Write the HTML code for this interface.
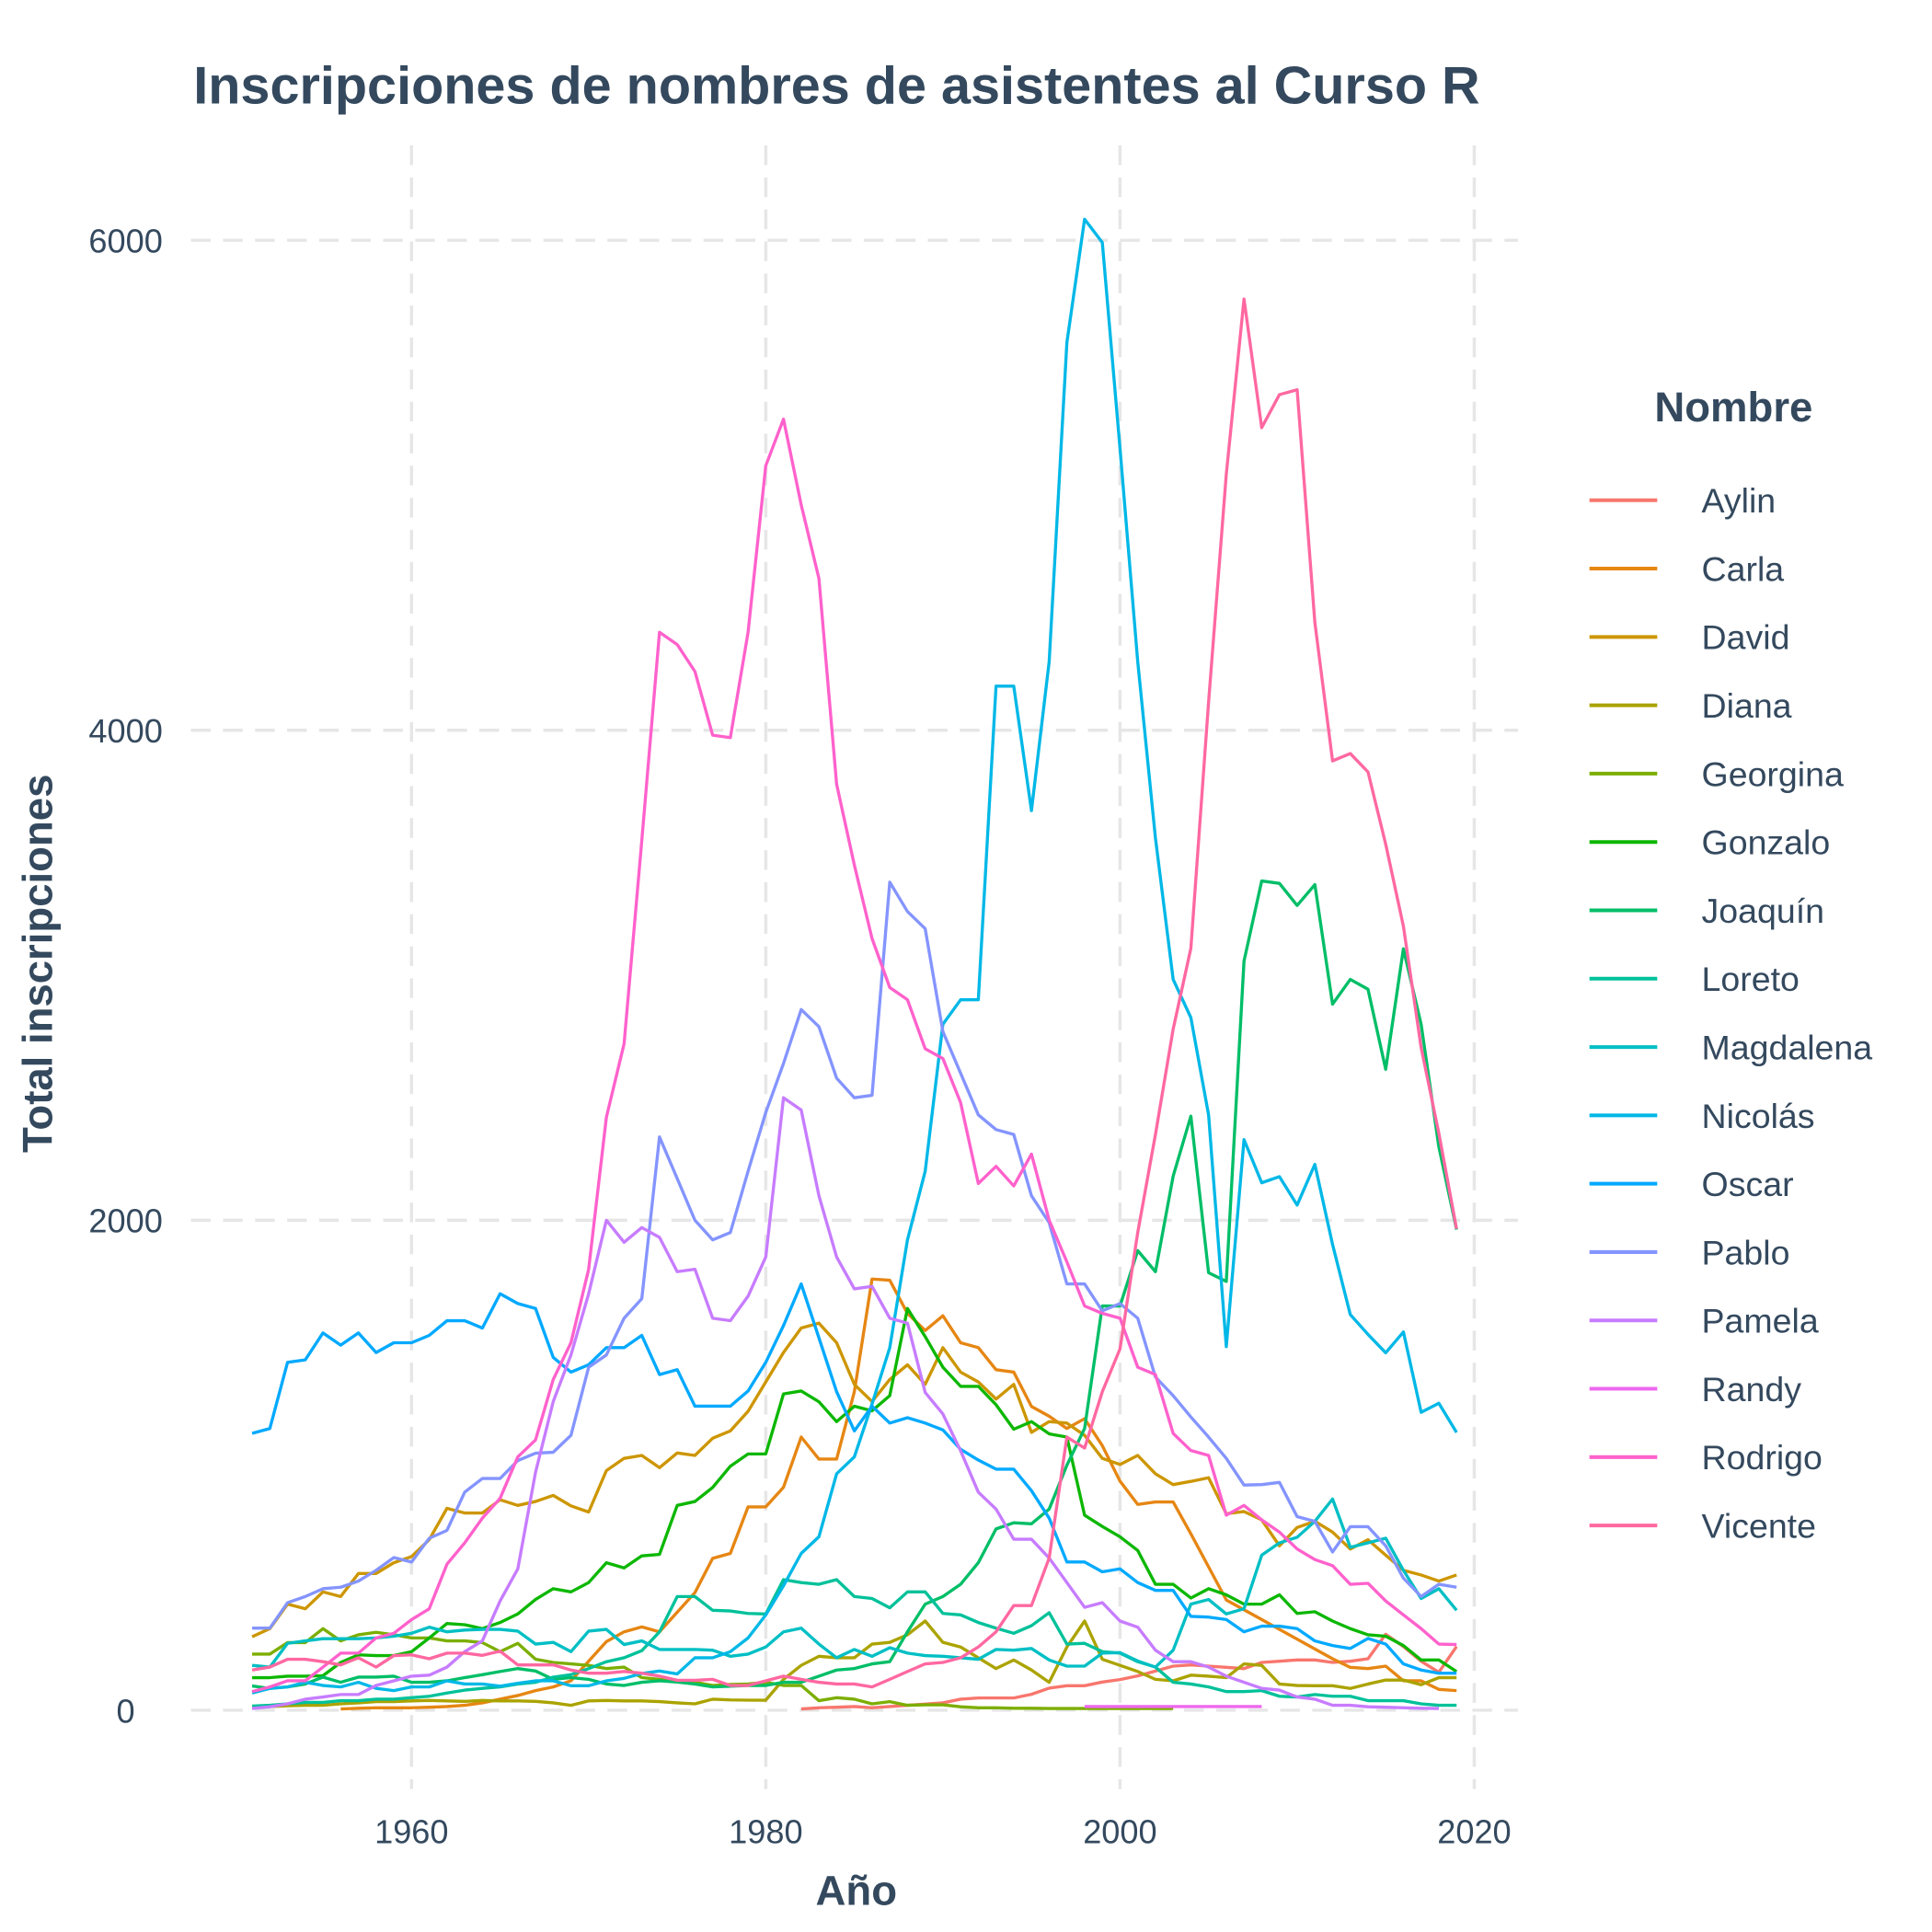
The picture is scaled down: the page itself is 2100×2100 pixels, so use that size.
<!DOCTYPE html>
<html><head><meta charset="utf-8"><style>
html,body{margin:0;padding:0;background:#fff;}
svg{display:block;}
text{font-family:"Liberation Sans",sans-serif;fill:#34495E;}
</style></head><body>
<svg id="chart" width="2100" height="2100" viewBox="0 0 1568 1568" xmlns="http://www.w3.org/2000/svg">
<rect x="0" y="0" width="1568" height="1568" fill="#fff"/>
<g id="grid"></g>
<g id="series"></g>
<g id="axes"></g>
<text x="157" y="84" font-size="43" font-weight="bold">Inscripciones de nombres de asistentes al Curso R</text>
<text x="695" y="1546" font-size="34" font-weight="bold" text-anchor="middle">Año</text>
<text transform="translate(42,782) rotate(-90)" font-size="34" font-weight="bold" text-anchor="middle">Total inscripciones</text>
<g id="legend">
<text x="1407" y="342" font-size="34" font-weight="bold" text-anchor="middle">Nombre</text>
</g>
</svg>
<script>
const names = ["Aylin","Carla","David","Diana","Georgina","Gonzalo","Joaquín","Loreto","Magdalena","Nicolás","Oscar","Pablo","Pamela","Randy","Rodrigo","Vicente"];
const colors = ["#F8766D","#E68613","#CD9600","#ABA300","#7CAE00","#0CB702","#00BE67","#00C19A","#00BFC4","#00B8E7","#00A9FF","#8494FF","#C77CFF","#ED68ED","#FF61CC","#FF68A1"];
const xTicks = [1960,1980,2000,2020];
const yTicks = [0,2000,4000,6000];
const startYears = [1982,1956,1951,1951,1951,1951,1951,1951,1951,1951,1951,1951,1951,1998,1951,1951];
const aylin = [5,10,12,15,10,15,20,25,30,45,50,50,50,65,90,100,100,115,125,140,160,180,185,180,175,170,195,200,205,205,195,200,210,310,260,200,155,260];
const carla = [5,8,10,10,10,12,15,20,30,45,60,80,95,120,200,280,320,340,320,400,480,620,640,830,830,910,1115,1025,1025,1300,1760,1755,1620,1550,1610,1500,1480,1390,1380,1240,1200,1150,1190,1080,935,840,850,850,720,585,450,410,370,330,290,250,210,175,170,180,120,120,85,80];
const david = [300,333,433,414,483,464,558,558,602,627,696,824,805,805,859,836,852,877,834,809,978,1028,1040,990,1050,1040,1110,1140,1220,1340,1460,1560,1580,1500,1330,1260,1350,1410,1330,1480,1380,1340,1270,1330,1134,1178,1172,1122,1028,1003,1040,965,921,934,949,802,811,777,671,746,771,727,658,696,633,571,552,527,552];
const diana = [14,15,18,20,20,26,30,35,35,38,40,38,36,40,38,38,36,30,20,38,40,38,38,35,30,26,45,42,41,41,126,183,220,214,214,270,277,308,364,277,258,214,170,205,164,114,258,364,208,183,158,126,120,143,139,133,189,183,107,101,100,100,89,107,123,123,104,133,133];
const georgina = [229,229,276,276,333,283,308,318,308,295,295,283,283,276,239,273,208,195,189,183,170,176,133,126,120,114,101,105,107,114,101,101,39,51,45,26,35,20,22,22,14,10,10,8,8,7,7,7,7,7,7,7,7];
const gonzalo = [133,133,139,139,141,195,226,223,223,239,295,354,349,333,358,393,452,496,483,521,602,581,630,636,836,852,909,996,1046,1046,1291,1303,1259,1178,1241,1222,1284,1640,1525,1400,1322,1322,1247,1147,1178,1128,1115,796,750,708,652,514,514,458,496,471,433,433,471,395,402,364,333,308,302,264,205,205,158];
const joaquin = [99,89,95,107,135,114,135,135,139,114,114,120,133,145,158,170,160,126,133,126,107,101,114,120,115,107,95,98,101,101,114,114,139,164,170,189,198,320,433,464,514,602,740,765,761,821,1000,1150,1650,1650,1876,1790,2180,2425,1786,1750,3058,3385,3375,3285,3370,2882,2983,2943,2616,3108,2800,2300,1962];
const loreto = [17,20,26,32,32,39,39,45,45,51,57,70,82,89,95,107,114,135,145,170,198,214,243,320,464,464,408,405,395,393,533,521,514,533,464,456,418,483,483,395,389,358,335,314,345,398,270,273,239,233,198,176,114,107,95,76,76,80,57,54,64,57,57,39,39,39,26,20,20];
const magdalena = [183,176,273,283,292,292,292,295,302,314,339,320,327,330,330,323,270,277,239,323,330,268,283,248,248,248,245,220,229,258,320,335,270,214,248,220,255,233,223,220,214,208,248,245,252,205,180,180,233,235,201,176,245,433,452,393,414,633,683,706,771,862,665,683,702,571,456,496,408];
const nicolas = [70,89,95,114,101,95,114,89,80,95,95,120,107,107,98,110,120,120,100,100,120,130,150,160,148,214,214,239,295,389,508,640,708,965,1034,1250,1480,1920,2200,2800,2900,2900,4180,4180,3672,4280,5583,6086,5991,5150,4280,3560,2983,2827,2430,1484,2329,2153,2178,2062,2228,1901,1615,1534,1459,1544,1216,1253,1134];
const oscar = [1130,1150,1420,1430,1540,1490,1540,1460,1500,1500,1530,1590,1590,1560,1700,1660,1640,1440,1380,1410,1480,1480,1530,1370,1390,1241,1241,1241,1303,1420,1570,1740,1520,1300,1140,1241,1172,1194,1172,1144,1065,1021,984,984,896,784,605,605,565,577,521,489,489,383,380,370,320,343,343,333,283,264,252,293,270,189,164,151,151];
const pablo = [335,335,439,464,496,502,527,571,623,605,702,734,890,946,946,1019,1049,1053,1122,1400,1450,1600,1680,2340,2170,2000,1920,1950,2200,2440,2640,2860,2790,2580,2500,2510,3380,3260,3190,2770,2600,2430,2370,2350,2100,1990,1740,1740,1630,1660,1600,1360,1284,1197,1115,1028,919,921,930,790,771,646,749,749,671,539,464,514,502];
const pamela = [7,14,26,45,54,64,64,101,120,139,143,176,239,283,446,577,971,1260,1450,1700,2000,1910,1970,1930,1790,1800,1600,1590,1690,1850,2500,2450,2100,1850,1720,1730,1600,1580,1297,1209,1059,890,821,698,698,621,521,420,439,364,339,245,198,198,176,139,114,89,82,54,45,20,20,14,12,10,8,7];
const randy = [15,15,15,15,15,15,15,15,15,15,15];
const rodrigo = [76,95,120,120,176,233,233,295,314,370,414,596,683,784,865,1034,1103,1350,1500,1800,2420,2720,3550,4400,4350,4240,3980,3970,4400,5080,5270,4920,4620,3780,3450,3150,2950,2900,2700,2660,2480,2150,2220,2140,2270,2000,1830,1650,1620,1600,1400,1370,1130,1060,1040,796,836,777,727,658,615,590,514,518,446,389,333,270,268];
const vicente = [164,176,208,208,198,185,214,176,223,226,210,233,233,224,241,185,185,185,164,151,151,158,151,139,122,122,126,101,101,120,139,126,114,107,107,95,126,158,189,195,214,258,320,427,427,621,1115,1070,1300,1475,1950,2350,2780,3110,4115,5045,5760,5235,5370,5390,4440,3875,3905,3830,3535,3200,2705,2355,1965];
const seriesValues = [aylin,carla,david,diana,georgina,gonzalo,joaquin,loreto,magdalena,nicolas,oscar,pablo,pamela,randy,rodrigo,vicente];

const NS = "http://www.w3.org/2000/svg";
function xs(year){ return 334 + (year - 1960) * 14.375; }
function ys(v){ return 1388 - v * 0.19883; }
function mk(tag, attrs, parent){ const e = document.createElementNS(NS, tag); for (const k in attrs) e.setAttribute(k, attrs[k]); parent.appendChild(e); return e; }

const grid = document.getElementById('grid');
yTicks.forEach(t => {
  const l = mk('line', {x1:155, x2:1232, y1:ys(t), y2:ys(t), stroke:'#e6e6e6', 'stroke-width':2.6, 'stroke-dasharray':'16,10'}, grid);
  
  
});
xTicks.forEach(t => {
  const l = mk('line', {x1:xs(t), x2:xs(t), y1:118, y2:1452, stroke:'#e6e6e6', 'stroke-width':2.6, 'stroke-dasharray':'16,10'}, grid);
  
  
});
const axes = document.getElementById('axes');
yTicks.forEach(t => {
  const tx = mk('text', {x:102, y:ys(t)+10, 'font-size':27, 'text-anchor':'middle'}, axes);
  tx.textContent = String(t);
  
  
});
xTicks.forEach(t => {
  const tx = mk('text', {x:xs(t), y:1496, 'font-size':27, 'text-anchor':'middle'}, axes);
  tx.textContent = String(t);
  
  
});

const sg = document.getElementById('series');
const lg = document.getElementById('legend');
seriesValues.forEach((vals, i) => {
  const pts = vals.map((v, j) => xs(startYears[i] + j).toFixed(2) + ',' + ys(v).toFixed(2)).join(' ');
  const p = mk('polyline', {points:pts, fill:'none', stroke:colors[i], 'stroke-width':2.5, 'stroke-linejoin':'round'}, sg);
  
  
  const yy = 406 + i * 55.47;
  const key = mk('line', {x1:1290, x2:1345, y1:yy, y2:yy, stroke:colors[i], 'stroke-width':3}, lg);
  
  
  const tx = mk('text', {x:1381, y:yy+10, 'font-size':28}, lg);
  tx.textContent = names[i];
  
  
});
</script>
</body></html>
